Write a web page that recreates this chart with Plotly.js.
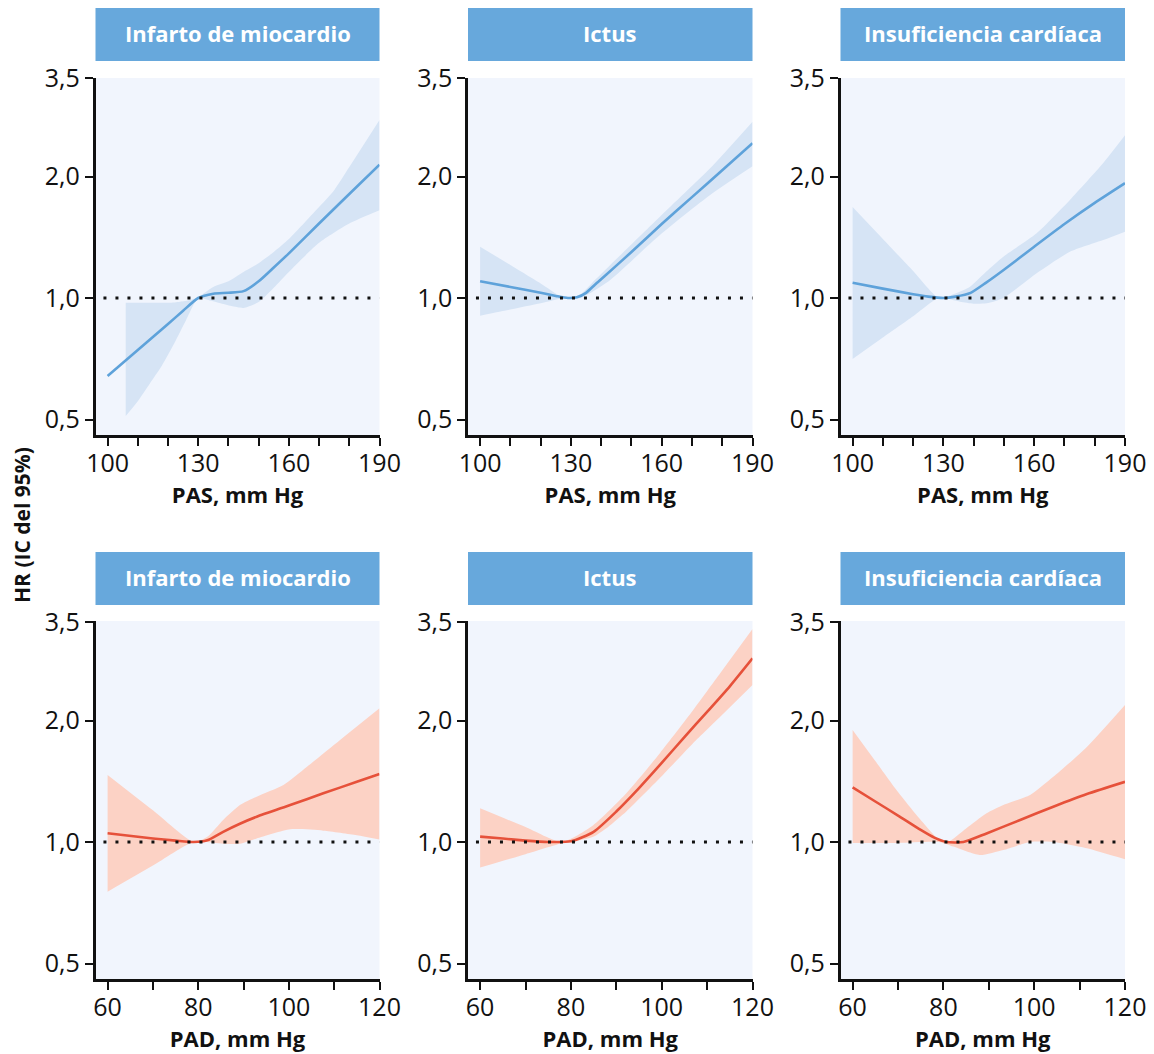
<!DOCTYPE html>
<html>
<head>
<meta charset="utf-8">
<script src="https://cdn.plot.ly/plotly-3.0.1.min.js"></script>
<style>html,body{margin:0;padding:0;background:#fff;}#chart{width:1154px;height:1054px;}</style>
</head>
<body>
<div id="chart"></div>
<script>
// ---------- DATA ----------
const outcomes = ['Infarto de miocardio', 'Ictus', 'Insuficiencia cardíaca'];
const yTickVals = [0.5, 1, 2, 3.5];
const yTickText = ['0,5', '1,0', '2,0', '3,5'];
const pasTickVals = [100, 110, 120, 130, 140, 150, 160, 170, 180, 190];
const pasTickText = ['100', '', '', '130', '', '', '160', '', '', '190'];
const padTickVals = [60, 70, 80, 90, 100, 110, 120];
const padTickText = ['60', '', '80', '', '100', '', '120'];
const pasTitle = 'PAS, mm Hg';
const padTitle = 'PAD, mm Hg';
const yTitle = 'HR (IC del 95%)';

// Panel 1: Infarto de miocardio vs PAS
const imPasX = [100, 105, 110, 115, 120, 125, 130, 135, 140, 145, 150, 155, 160, 170, 180, 190];
const imPasHR = [0.641, 0.69, 0.743, 0.80, 0.862, 0.93, 1.0, 1.025, 1.03, 1.04, 1.10, 1.19, 1.29, 1.53, 1.81, 2.14];
const imPasUpX = [106, 112, 118, 122, 125, 128, 130, 135, 140, 145, 150, 155, 160, 168, 175, 180, 190];
const imPasUp = [0.973, 0.973, 0.973, 0.975, 0.982, 0.992, 1.005, 1.065, 1.10, 1.16, 1.22, 1.30, 1.40, 1.62, 1.85, 2.11, 2.76];
const imPasLoX = [106, 110, 114, 118, 122, 126, 130, 133, 137, 141, 145, 150, 155, 160, 170, 180, 190];
const imPasLo = [0.51, 0.555, 0.614, 0.68, 0.77, 0.882, 1.0, 0.99, 0.972, 0.955, 0.945, 0.977, 1.06, 1.16, 1.37, 1.53, 1.65];

// Panel 2: Ictus vs PAS
const icPasX = [100, 110, 120, 125, 129, 132, 135, 138, 141, 150, 160, 170, 180, 190];
const icPasHR = [1.10, 1.065, 1.03, 1.012, 1.0, 1.004, 1.03, 1.08, 1.13, 1.30, 1.525, 1.778, 2.073, 2.417];
const icPasUpX = [100, 110, 120, 128, 133, 137, 143, 159.4, 176, 190];
const icPasUp = [1.34, 1.207, 1.087, 1.0, 1.02, 1.09, 1.207, 1.59, 2.096, 2.734];
const icPasLoX = [100, 110, 120, 128, 133, 137, 143, 159.4, 176, 190];
const icPasLo = [0.904, 0.937, 0.971, 1.0, 1.0, 1.035, 1.108, 1.432, 1.80, 2.12];

// Panel 3: Insuficiencia cardíaca vs PAS
const hfPasX = [100, 110, 120, 125, 130, 134, 139, 144, 150, 160, 170, 180, 190];
const hfPasHR = [1.091, 1.055, 1.022, 1.008, 1.0, 1.008, 1.03, 1.09, 1.175, 1.34, 1.525, 1.72, 1.925];
const hfPasUpX = [100, 110, 120, 128.5, 133, 138.8, 144, 149.8, 160.8, 171.8, 182.8, 190];
const hfPasUp = [1.68, 1.40, 1.167, 1.0, 1.02, 1.067, 1.16, 1.266, 1.447, 1.75, 2.16, 2.53];
const hfPasLoX = [100, 110, 120, 128.5, 135.5, 140, 144.3, 149.8, 160.8, 171.8, 182.8, 190];
const hfPasLo = [0.706, 0.798, 0.901, 1.0, 0.979, 0.968, 0.97, 1.0, 1.151, 1.302, 1.392, 1.46];

// Panel 4: Infarto de miocardio vs PAD
const imPadX = [60, 70, 75, 79, 82, 85.5, 89.2, 92.9, 100.3, 107.6, 115, 120];
const imPadHR = [1.051, 1.02, 1.008, 1.0, 1.01, 1.06, 1.11, 1.155, 1.235, 1.32, 1.41, 1.474];
const imPadUpX = [60, 70, 79, 82, 85.5, 89.2, 92.9, 98.8, 104, 111.3, 120];
const imPadUp = [1.466, 1.198, 1.0, 1.03, 1.134, 1.235, 1.295, 1.384, 1.536, 1.79, 2.145];
const imPadLoX = [60, 70, 79, 85.5, 89.2, 92.9, 100.3, 107.6, 115, 120];
const imPadLo = [0.753, 0.874, 1.0, 0.99, 0.99, 1.02, 1.075, 1.067, 1.04, 1.015];

// Panel 5: Ictus vs PAD
const icPadX = [60, 65, 70, 75, 80, 85, 90, 95, 100, 105, 110, 115, 120];
const icPadHR = [1.031, 1.02, 1.008, 1.0, 1.004, 1.06, 1.19, 1.36, 1.57, 1.82, 2.1, 2.43, 2.85];
const icPadUpX = [60, 70, 78, 84.9, 92.2, 99.6, 106.9, 113, 120];
const icPadUp = [1.212, 1.089, 1.0, 1.10, 1.32, 1.66, 2.12, 2.63, 3.37];
const icPadLoX = [60, 70, 79, 82, 84.9, 88.2, 92.2, 99.6, 106.9, 113, 120];
const icPadLo = [0.864, 0.933, 1.0, 1.01, 1.03, 1.09, 1.19, 1.44, 1.757, 2.05, 2.45];

// Panel 6: Insuficiencia cardíaca vs PAD
const hfPadX = [60, 65, 70, 75, 78, 80.7, 84.4, 89.5, 96.9, 104.2, 111.6, 120];
const hfPadHR = [1.366, 1.26, 1.163, 1.071, 1.025, 1.0, 1.0, 1.05, 1.134, 1.223, 1.315, 1.41];
const hfPadUpX = [60, 65, 70, 75, 79.2, 81, 85, 89.5, 93.2, 99.1, 104.2, 111.6, 120];
const hfPadUp = [1.895, 1.587, 1.33, 1.134, 1.01, 1.0, 1.08, 1.178, 1.235, 1.308, 1.45, 1.72, 2.185];
const hfPadLoX = [60, 70, 79, 82.2, 88, 93.2, 99.1, 104.2, 111.6, 120];
const hfPadLo = [0.995, 0.995, 1.0, 0.974, 0.928, 0.955, 1.0, 1.0, 0.965, 0.906];

// ---------- STYLE / LAYOUT ----------
const W = 1154, H = 1054;
const FONT = 'Open Sans, Noto Sans, sans-serif';
const BLUE_LINE = '#5ea2da', BLUE_BAND = '#d6e4f5';
const RED_LINE = '#e6513a', RED_BAND = '#fcd2c5';
const BG = '#f1f5fd', BAR = '#67a8dc';
const SMOOTH = 0.6;

const panels = [
  {x: imPasX, y: imPasHR, ux: imPasUpX, u: imPasUp, lx: imPasLoX, l: imPasLo, row: 0, col: 0},
  {x: icPasX, y: icPasHR, ux: icPasUpX, u: icPasUp, lx: icPasLoX, l: icPasLo, row: 0, col: 1},
  {x: hfPasX, y: hfPasHR, ux: hfPasUpX, u: hfPasUp, lx: hfPasLoX, l: hfPasLo, row: 0, col: 2},
  {x: imPadX, y: imPadHR, ux: imPadUpX, u: imPadUp, lx: imPadLoX, l: imPadLo, row: 1, col: 0},
  {x: icPadX, y: icPadHR, ux: icPadUpX, u: icPadUp, lx: icPadLoX, l: icPadLo, row: 1, col: 1},
  {x: hfPadX, y: hfPadHR, ux: hfPadUpX, u: hfPadUp, lx: hfPadLoX, l: hfPadLo, row: 1, col: 2}
];

const colPx = [[95.5, 379.5], [468, 752.5], [840.5, 1125]];
const rowPx = [[78, 435], [621, 979]];     // plot top/bottom in px
const refPx = [298, 842];                   // pixel of HR = 1 in each row
const decadePx = 403.6;
const barPx = [[8, 61], [552, 605]];
const xRanges = [[96, 190], [57.33, 120]];

const traces = [];
const layout = {
  width: W, height: H,
  margin: {l: 0, r: 0, t: 0, b: 0},
  paper_bgcolor: '#ffffff',
  plot_bgcolor: BG,
  showlegend: false,
  font: {family: FONT, color: '#111111'},
  shapes: [],
  annotations: []
};

panels.forEach((p, i) => {
  const n = i + 1;
  const xa = n === 1 ? 'x' : 'x' + n;
  const ya = n === 1 ? 'y' : 'y' + n;
  const lineC = p.row === 0 ? BLUE_LINE : RED_LINE;
  const bandC = p.row === 0 ? BLUE_BAND : RED_BAND;

  traces.push({x: p.lx, y: p.l, xaxis: xa, yaxis: ya, type: 'scatter', mode: 'lines',
    line: {width: 0, shape: 'spline', smoothing: SMOOTH, color: bandC}, hoverinfo: 'skip'});
  traces.push({x: p.ux, y: p.u, xaxis: xa, yaxis: ya, type: 'scatter', mode: 'lines',
    fill: 'tonexty', fillcolor: bandC,
    line: {width: 0, shape: 'spline', smoothing: SMOOTH, color: bandC}, hoverinfo: 'skip'});
  traces.push({x: p.x, y: p.y, xaxis: xa, yaxis: ya, type: 'scatter', mode: 'lines',
    line: {width: 2.6, shape: 'spline', smoothing: SMOOTH, color: lineC}});

  const [top, bot] = rowPx[p.row];
  const ref = refPx[p.row];
  const [l, r] = colPx[p.col];
  const xKey = n === 1 ? 'xaxis' : 'xaxis' + n;
  const yKey = n === 1 ? 'yaxis' : 'yaxis' + n;

  layout[xKey] = {
    domain: [l / W, r / W], anchor: ya, range: xRanges[p.row],
    tickmode: 'array',
    tickvals: p.row === 0 ? pasTickVals : padTickVals,
    ticktext: p.row === 0 ? pasTickText : padTickText,
    ticks: 'outside', ticklen: 8, tickwidth: 2, tickcolor: '#111',
    ticklabelstandoff: -4,
    showline: true, linecolor: '#111', linewidth: 2.6,
    showgrid: false, zeroline: false, fixedrange: true,
    tickfont: {size: 25, family: FONT, color: '#111', weight: 500},
    title: {text: p.row === 0 ? pasTitle : padTitle, standoff: 10,
      font: {size: 22, family: FONT, color: '#111', weight: 700}}
  };
  layout[yKey] = {
    domain: [1 - bot / H, 1 - top / H], anchor: xa, type: 'log',
    range: [(ref - bot) / decadePx, (ref - top) / decadePx],
    tickmode: 'array', tickvals: yTickVals, ticktext: yTickText,
    ticks: 'outside', ticklen: 8, tickwidth: 2, tickcolor: '#111',
    showline: true, linecolor: '#111', linewidth: 2.6,
    showgrid: false, zeroline: false, fixedrange: true,
    tickfont: {size: 25, family: FONT, color: '#111', weight: 500}
  };

  // reference dotted line at HR = 1
  layout.shapes.push({type: 'line', xref: xa + ' domain', yref: ya,
    x0: 0.028, x1: 1, y0: 1, y1: 1,
    line: {color: '#111', width: 3, dash: '3px,9px'}});

  // title bar
  const [bt, bb] = barPx[p.row];
  layout.shapes.push({type: 'rect', xref: 'paper', yref: 'paper',
    x0: l / W, x1: r / W, y0: 1 - bb / H, y1: 1 - bt / H,
    fillcolor: BAR, line: {width: 0}, layer: 'below'});
  layout.annotations.push({xref: 'paper', yref: 'paper',
    x: (l + r) / 2 / W, y: 1 - (bt + bb) / 2 / H + 1 / H, xanchor: 'center', yanchor: 'middle',
    text: outcomes[p.col], showarrow: false,
    font: {size: 22, family: FONT, color: '#ffffff', weight: 700}});
});

layout.annotations.push({xref: 'paper', yref: 'paper', x: 22 / W, y: 1 - 525 / H,
  xanchor: 'center', yanchor: 'middle', textangle: -90, text: yTitle, showarrow: false,
  font: {size: 21, family: FONT, color: '#111', weight: 700}});

Plotly.newPlot('chart', traces, layout, {displayModeBar: false, staticPlot: true});
</script>
</body>
</html>
